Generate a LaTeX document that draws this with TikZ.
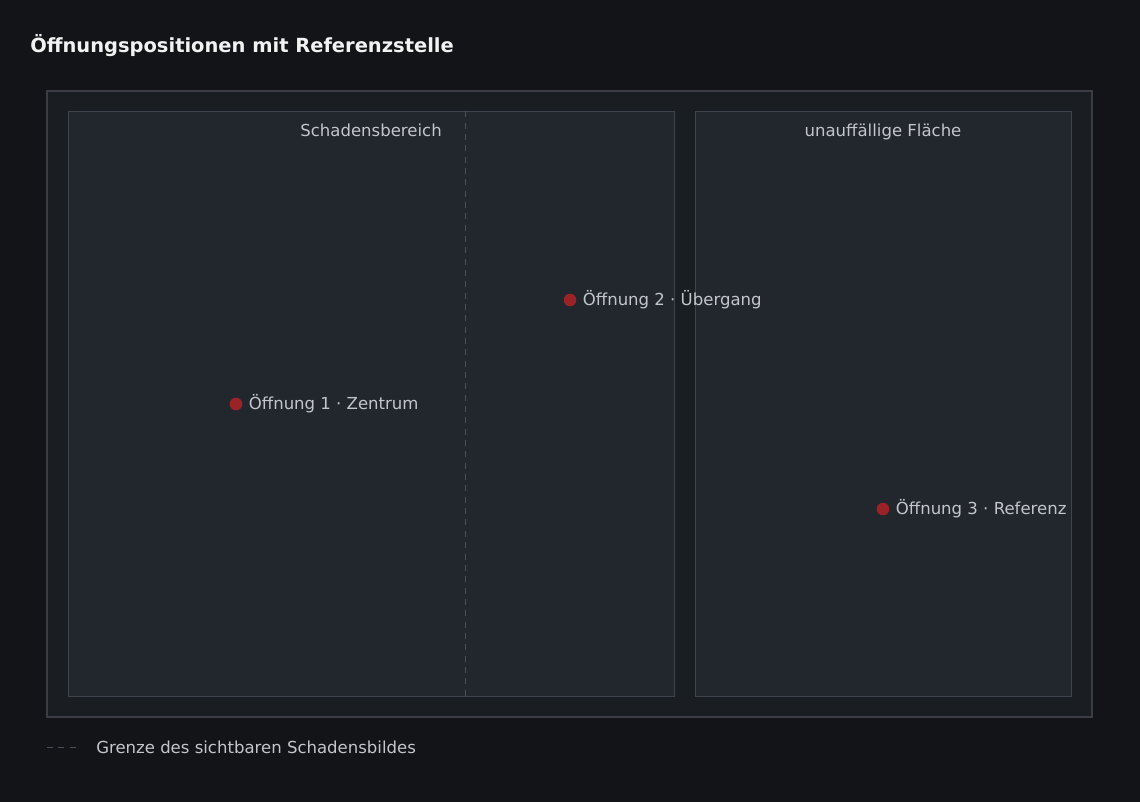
\documentclass[tikz,border=0pt]{standalone}
\usepackage{fontspec}
\setmainfont{DejaVu Sans}
\usetikzlibrary{positioning}

\definecolor{bgcol}{HTML}{121418}
\definecolor{framefill}{HTML}{1A1D21}
\definecolor{framedraw}{HTML}{3A3E44}
\definecolor{panelfill}{HTML}{22272E}
\definecolor{paneldraw}{HTML}{3E444B}
\definecolor{dashcol}{HTML}{4A5058}
\definecolor{dotcol}{HTML}{9B2226}
\definecolor{txtcol}{HTML}{C2C6CB}
\definecolor{titlecol}{HTML}{F2F2F2}

\tikzset{
  panel/.style={rectangle, draw=paneldraw, fill=panelfill, line width=0.75pt, inner sep=0pt},
  hole/.style={circle, fill=dotcol, minimum size=9.5pt, inner sep=0pt},
  holetext/.style={text=txtcol, font=\fontsize{12.4}{14}\selectfont, inner sep=0pt, anchor=west},
  paneltitle/.style={text=txtcol, font=\fontsize{12.4}{14}\selectfont, inner sep=0pt, anchor=base},
  boundary/.style={dashcol, line width=0.75pt, dash pattern=on 4.5pt off 4pt},
}

\begin{document}
\begin{tikzpicture}[x=0.75pt, y=-0.75pt]
    \fill[bgcol] (0,0) rectangle (1140,802);
    \useasboundingbox (0,0) rectangle (1140,802);
    \node[text=titlecol, font=\bfseries\fontsize{14.6}{17}\selectfont, anchor=west, inner sep=0pt]
      (title) at (30,46)
      {Öffnungspositionen mit Referenzstelle};
    \draw[framedraw, fill=framefill, line width=1.5pt]
      (47,91) rectangle (1092,717);
    \node[panel, minimum width=454.5pt, minimum height=438pt]
      (damage) at (371,404)
      {};
    \node[panel, minimum width=282pt, minimum height=438pt]
      (clean) at (883,404)
      {};
    \draw[boundary]
      (damage.north -| 465,0) -- (damage.south -| 465,0);
    \node[paneltitle] (damagetitle) at (371,137) {Schadensbereich};
    \node[paneltitle] (cleantitle) at (883,137) {unauffällige Fläche};
    \node[hole] (hole1) at (236,404) {};
    \node[hole] (hole2) at (570,300) {};
    \node[hole] (hole3) at (883,509) {};
    \node[holetext, right=4.5pt of hole1] (text1) {Öffnung 1 · Zentrum};
    \node[holetext, right=4.5pt of hole2] (text2) {Öffnung 2 · Übergang};
    \node[holetext, right=4.5pt of hole3] (text3) {Öffnung 3 · Referenz};
    \coordinate (legstart) at (47,747);
    \coordinate (legend) at (80,747);
    \draw[boundary] (legstart) -- (legend);
    \node[holetext] (legtext) at (96,747) {Grenze des sichtbaren Schadensbildes};
  \end{tikzpicture}
\end{document}
